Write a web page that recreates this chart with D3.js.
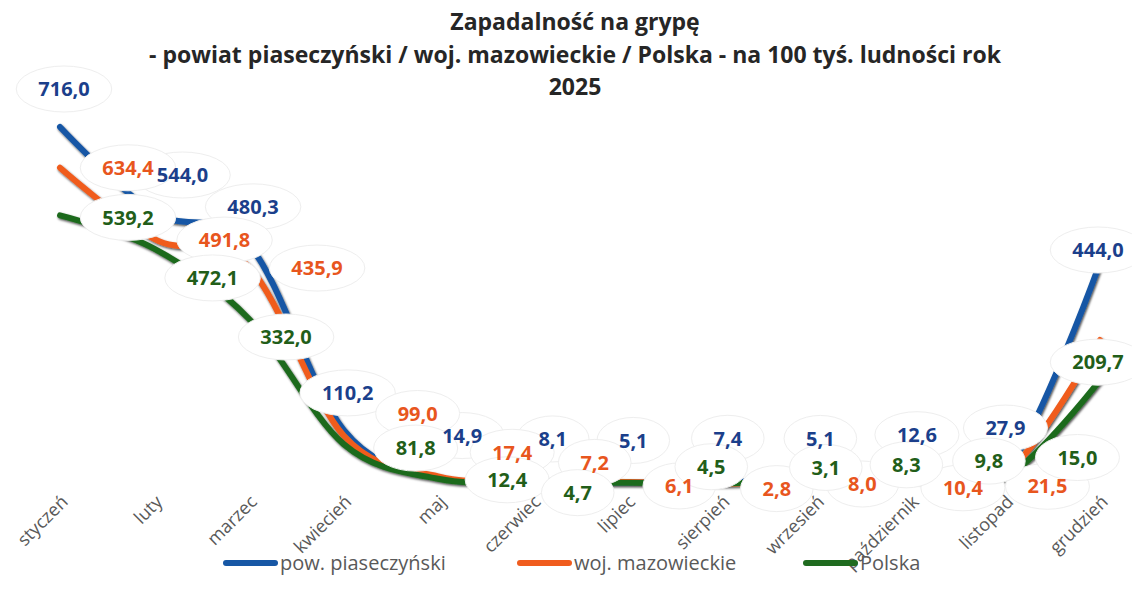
<!DOCTYPE html>
<html lang="pl">
<head>
<meta charset="utf-8">
<title>Zapadalność na grypę</title>
<script src="https://cdn.jsdelivr.net/npm/d3@7"></script>
<style>
  html, body { margin: 0; padding: 0; background: #fff; }
  svg { display: block; font-family: 'Open Sans', sans-serif; }
</style>
</head>
<body>
<svg id="chart" width="1132" height="593"></svg>
<script>
const months = ['styczeń', 'luty', 'marzec', 'kwiecień', 'maj', 'czerwiec', 'lipiec', 'sierpień', 'wrzesień', 'październik', 'listopad', 'grudzień']
const powiat = [716.0, 544.0, 480.3, 110.2, 14.9, 8.1, 5.1, 7.4, 5.1, 12.6, 27.9, 444.0]
const wojewodztwo = [634.4, 491.8, 435.9, 99.0, 17.4, 7.2, 6.1, 2.8, 8.0, 10.4, 21.5, 290.0]
const polska = [539.2, 472.1, 332.0, 81.8, 12.4, 4.7, 4.5, 3.1, 8.3, 9.8, 15.0, 209.7]
const seriesNames = ['pow. piaseczyński', 'woj. mazowieckie', 'Polska']
const titleLines = ['Zapadalność na grypę', '- powiat piaseczyński / woj. mazowieckie / Polska - na 100 tyś. ludności rok', '2025']

const width = 1132

// label placement, roughly like the excel callouts
const shifts = {
  powiat: [[4, -38], [28, -38], [4, -38], [4, -37], [24, -42], [20, -42], [6, -42], [6, -43], [4, -44], [6, -44], [0, -43], [-2, -13]],
  wojewodztwo: [[68, 0], [70, 1], [68, 1], [74, -22], [74, -24], [62, -19], [52, 4], [55, 5], [46, 3], [52, 8], [42, 12], [100, 0]],
  polska: [[68, 2], [58, 29], [37, 18], [72, 4], [69, 1], [45, 10], [84, -16], [104, -16], [90, -16], [78, -19], [72, -20], [-2, -18]]
}

const series = [
  { key: 'powiat', name: seriesNames[0], values: powiat, line: '#1757a5', text: '#1b3f8b' },
  { key: 'wojewodztwo', name: seriesNames[1], values: wojewodztwo, line: '#f05c1e', text: '#e8561e' },
  { key: 'polska', name: seriesNames[2], values: polska, line: '#1f6b1f', text: '#225e19' }
]

const svg = d3.select('#chart')

const x = d3.scalePoint().domain(months).range([60, 1100])
const y = d3.scaleLinear().domain([0, 800]).range([485, 85])

const fmt = v => d3.format('.1f')(v).replace('.', ',')

// shadow under the lines
const defs = svg.append('defs')
defs.append('filter')
  .attr('id', 'shade')
  .attr('x', '-5%').attr('y', '-5%').attr('width', '110%').attr('height', '110%')
  .append('feDropShadow')
  .attr('dx', 1).attr('dy', 1.5).attr('stdDeviation', 0.8)
  .attr('flood-color', '#000').attr('flood-opacity', 0.7)

// title
svg.append('g')
  .selectAll('text')
  .data(titleLines)
  .enter()
  .append('text')
  .attr('x', 575)
  .attr('y', (d, i) => 30 + i * 32.5)
  .attr('text-anchor', 'middle')
  .attr('font-size', 23)
  .attr('font-weight', 700)
  .attr('fill', '#262626')
  .text(d => d)

// lines
const line = d3.line()
  .x((d, i) => x(months[i]))
  .y(d => y(d))
  .curve(d3.curveCatmullRom.alpha(0))

svg.append('g')
  .attr('filter', 'url(#shade)')
  .selectAll('path')
  .data(series)
  .enter()
  .append('path')
  .attr('d', d => line(d.values))
  .attr('fill', 'none')
  .attr('stroke', d => d.line)
  .attr('stroke-width', 6)
  .attr('stroke-linecap', 'round')

// data labels: every white ellipse first, the numbers on top
// (a label pushed past the right edge is dropped, as excel clips it)
const labelData = series.flatMap(s => s.values.map((v, i) => {
  const [dx, dy] = shifts[s.key][i]
  return { s, v, i, cx: x(months[i]) + dx, cy: y(v) + dy }
})).filter(d => d.cx < width - 20)

const bubbles = svg.append('g').attr('class', 'bubbles')
const numbers = svg.append('g').attr('class', 'numbers')

const txt = numbers.selectAll('text')
  .data(labelData)
  .enter()
  .append('text')
  .attr('x', d => d.cx)
  .attr('y', d => d.cy)
  .attr('text-anchor', 'middle')
  .attr('dy', '0.36em')
  .attr('font-size', 20)
  .attr('font-weight', 700)
  .attr('fill', d => d.s.text)
  .text(d => fmt(d.v))

txt.each(function (d) {
  d.w = this.getComputedTextLength()
})

bubbles.selectAll('ellipse')
  .data(labelData)
  .enter()
  .append('ellipse')
  .attr('cx', d => d.cx)
  .attr('cy', d => d.cy)
  .attr('rx', d => d.w / 2 + 22)
  .attr('ry', 23)
  .attr('fill', '#fff')
  .attr('stroke', '#eeeeee')
  .attr('stroke-width', 1)

// category labels
svg.append('g')
  .selectAll('text')
  .data(months)
  .enter()
  .append('text')
  .attr('transform', d => `translate(${x(d) + 9},${503}) rotate(-45)`)
  .attr('text-anchor', 'end')
  .attr('font-size', 18)
  .attr('fill', '#595959')
  .text(d => d)

// legend
const legendX = [223, 517, 803]
const legend = svg.append('g')
  .selectAll('g')
  .data(series)
  .enter()
  .append('g')
  .attr('transform', (d, i) => `translate(${legendX[i]},563)`)

legend.append('line')
  .attr('x1', 3).attr('x2', 52)
  .attr('stroke', d => d.line)
  .attr('stroke-width', 6)
  .attr('stroke-linecap', 'round')

legend.append('text')
  .attr('x', 57)
  .attr('dy', '0.35em')
  .attr('font-size', 20)
  .attr('fill', '#595959')
  .text(d => d.name)
</script>
</body>
</html>
